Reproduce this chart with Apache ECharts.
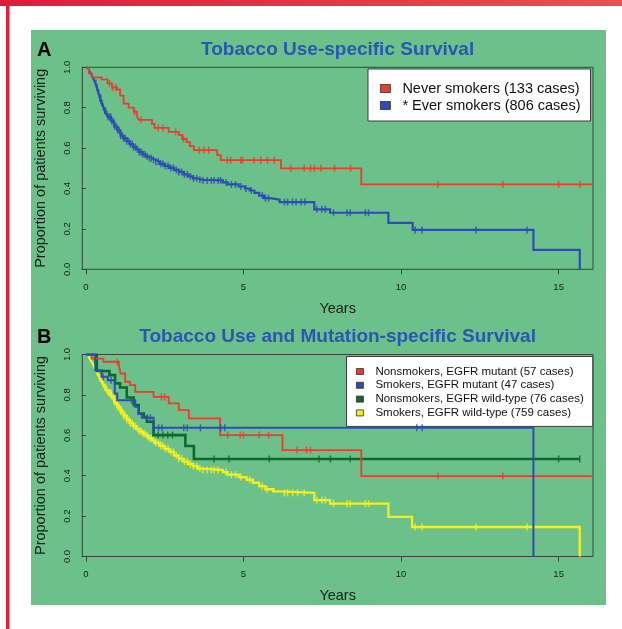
<!DOCTYPE html>
<html>
<head>
<meta charset="utf-8">
<script src="https://cdn.jsdelivr.net/npm/echarts@6/dist/echarts.min.js"></script>
<style>
  html, body { margin: 0; padding: 0; background: #ffffff; }
  #chart { width: 622px; height: 629px; }
</style>
</head>
<body>
<div id="chart"></div>
<script>
// ---- Kaplan-Meier step data: [years, proportion surviving after the drop] ----

// Panel A: tobacco use
const neverSmokersA = [
  [0, 1], [0.1, 0.97], [0.19, 0.95], [0.5, 0.94], [0.69, 0.92], [0.83, 0.90], [0.99, 0.89],
  [1.09, 0.86], [1.2, 0.82], [1.36, 0.80], [1.52, 0.78], [1.62, 0.76], [1.68, 0.74],
  [2.1, 0.72], [2.18, 0.70], [2.63, 0.68], [2.95, 0.665], [3.06, 0.645], [3.2, 0.63],
  [3.3, 0.61], [3.43, 0.59], [4.17, 0.565], [4.28, 0.54], [6.19, 0.50], [8.74, 0.42],
  [16.05, 0.42]
];
const everSmokersA = [
  [0, 1], [0.05, 0.995], [0.1, 0.985], [0.15, 0.972], [0.2, 0.958], [0.25, 0.94],
  [0.3, 0.922], [0.35, 0.9], [0.4, 0.875], [0.45, 0.848], [0.5, 0.822], [0.55, 0.805],
  [0.6, 0.785], [0.65, 0.77], [0.7, 0.755], [0.8, 0.733], [0.9, 0.708], [1.0, 0.688],
  [1.1, 0.662], [1.2, 0.648], [1.3, 0.634], [1.4, 0.62], [1.5, 0.605], [1.6, 0.594],
  [1.7, 0.58], [1.8, 0.569], [1.9, 0.558], [2.0, 0.55], [2.1, 0.542], [2.2, 0.533],
  [2.35, 0.522], [2.5, 0.512], [2.65, 0.502], [2.8, 0.492], [2.95, 0.482], [3.1, 0.47],
  [3.25, 0.46], [3.4, 0.45], [3.55, 0.443], [3.7, 0.44], [4.35, 0.43], [4.5, 0.42],
  [4.85, 0.41], [5.05, 0.4], [5.2, 0.39], [5.35, 0.378], [5.5, 0.365], [5.65, 0.352],
  [5.85, 0.345], [6.15, 0.333], [7.25, 0.297], [7.75, 0.28], [9.6, 0.23], [10.37, 0.195],
  [14.2, 0.096], [15.67, 0]
];
const neverCensorA = [
  0.75, 0.85, 0.95, 1.55, 1.75, 2.3, 2.45, 2.85, 3.1, 3.6, 3.75, 3.9, 4.49, 4.6, 4.92,
  4.97, 5.34, 5.55, 5.76, 5.98, 6.5, 6.93, 7.13, 7.25, 7.46, 7.89, 8.4, 11.17, 13.23,
  15.0, 15.67
];
const everCensorA = [
  0.32, 0.36, 0.41, 0.45, 0.48, 0.52, 0.56, 0.6, 0.63, 0.67, 0.71, 0.75, 0.79, 0.83,
  0.88, 0.92, 0.97, 1.02, 1.06, 1.11, 1.16, 1.2, 1.25, 1.3, 1.36, 1.41, 1.47, 1.52,
  1.58, 1.64, 1.7, 1.76, 1.82, 1.88, 1.95, 2.02, 2.08, 2.15, 2.22, 2.3, 2.38, 2.45,
  2.53, 2.61, 2.7, 2.78, 2.87, 2.95, 3.04, 3.13, 3.22, 3.32, 3.42, 3.52, 3.62, 3.72,
  3.85, 3.98, 4.07, 4.2, 4.28, 4.45, 4.62, 4.75, 4.92, 5.08, 5.25, 5.6, 5.7, 5.8,
  6.3, 6.4, 6.56, 6.67, 6.83, 6.95, 7.33, 7.49, 7.6, 7.86, 8.29, 8.39, 8.87, 8.97,
  10.45, 10.67, 12.38, 14.0
];

// Panel B: tobacco use and EGFR mutation status
const nonsmokersMutantB = [
  [0, 1], [0.19, 0.98], [0.56, 0.964], [1.05, 0.947], [1.1, 0.906], [1.25, 0.865],
  [1.4, 0.848], [1.57, 0.815], [2.15, 0.79], [2.63, 0.758], [2.95, 0.725], [3.27, 0.684],
  [4.26, 0.601], [6.24, 0.527], [8.74, 0.398], [16.05, 0.398]
];
const smokersMutantB = [
  [0, 1], [0.3, 0.922], [0.5, 0.89], [0.7, 0.873], [0.92, 0.807], [1.0, 0.774],
  [1.57, 0.741], [1.68, 0.706], [1.78, 0.687], [2.15, 0.637], [14.2, 0]
];
const nonsmokersWildB = [
  [0, 1], [0.35, 0.918], [0.75, 0.898], [0.93, 0.857], [1.09, 0.837], [1.3, 0.787],
  [1.52, 0.75], [1.68, 0.708], [1.84, 0.69], [1.94, 0.667], [2.15, 0.601], [3.16, 0.547],
  [3.43, 0.483], [15.67, 0.483]
];
const smokersWildB = [
  [0, 1], [0.05, 0.995], [0.1, 0.985], [0.15, 0.972], [0.2, 0.96], [0.25, 0.945],
  [0.3, 0.93], [0.35, 0.915], [0.4, 0.898], [0.45, 0.882], [0.5, 0.868], [0.55, 0.852],
  [0.6, 0.838], [0.65, 0.825], [0.7, 0.812], [0.8, 0.79], [0.9, 0.762], [1.0, 0.74],
  [1.1, 0.717], [1.2, 0.697], [1.3, 0.677], [1.4, 0.66], [1.5, 0.645], [1.6, 0.632],
  [1.7, 0.62], [1.8, 0.608], [1.9, 0.598], [2.0, 0.585], [2.1, 0.575], [2.2, 0.563],
  [2.35, 0.548], [2.5, 0.533], [2.65, 0.518], [2.8, 0.5], [2.95, 0.485], [3.1, 0.47],
  [3.25, 0.458], [3.4, 0.447], [3.55, 0.435], [3.7, 0.428], [4.35, 0.418], [4.5, 0.405],
  [4.85, 0.393], [5.1, 0.38], [5.3, 0.365], [5.5, 0.348], [5.7, 0.333], [5.95, 0.322],
  [6.15, 0.315], [7.25, 0.279], [7.75, 0.262], [9.6, 0.196], [10.35, 0.146], [15.67, 0]
];
const nonsmokersMutantCensorB = [
  0.3, 1.0, 2.4, 2.5, 4.5, 4.9, 5.0, 5.5, 5.8, 6.7, 7.0, 7.13, 11.17, 13.23
];
const smokersMutantCensorB = [
  0.55, 0.8, 1.45, 1.95, 2.05, 2.31, 2.42, 3.11, 3.22, 3.64, 4.28, 4.41, 10.5, 10.67
];
const nonsmokersWildCensorB = [
  2.3, 2.45, 2.6, 2.75, 4.07, 4.54, 5.82, 7.4, 7.76, 8.39, 15.0, 15.67
];
const smokersWildCensorB = [
  0.32, 0.36, 0.41, 0.45, 0.48, 0.52, 0.56, 0.6, 0.63, 0.67, 0.71, 0.75, 0.79, 0.83,
  0.88, 0.92, 0.97, 1.02, 1.06, 1.11, 1.16, 1.2, 1.25, 1.3, 1.36, 1.41, 1.47, 1.52,
  1.58, 1.64, 1.7, 1.76, 1.82, 1.88, 1.95, 2.02, 2.08, 2.15, 2.22, 2.3, 2.38, 2.45,
  2.53, 2.61, 2.7, 2.78, 2.87, 2.95, 3.04, 3.13, 3.22, 3.32, 3.42, 3.52, 3.62, 3.72,
  3.85, 3.98, 4.07, 4.2, 4.45, 4.62, 4.75, 4.92, 5.2, 5.6, 5.75, 6.3, 6.4, 6.56, 6.72,
  6.93, 7.33, 7.49, 7.6, 7.86, 8.29, 8.39, 8.87, 8.97, 10.45, 10.67, 12.38, 14.0
];

// Axis ticks and text
const xTickValues = [0, 5, 10, 15];
const yTickStep = 0.2;
const legendA = ['Never smokers (133 cases)', '* Ever smokers (806 cases)'];
const legendB = [
  'Nonsmokers, EGFR mutant (57 cases)',
  'Smokers, EGFR mutant (47 cases)',
  'Nonsmokers, EGFR wild-type (76 cases)',
  'Smokers, EGFR wild-type (759 cases)'
];

// ---- styling ----
const RED = '#f03a2c';
const BLUE = '#2d4cb5';
const DKGREEN = '#0b6a2c';
const YELLOW = '#f4f01c';
const PANEL = '#6cc089';
const FRAME = '#34473a';
const INK = '#15201a';
const FONT = '"Liberation Sans", Arial, Helvetica, sans-serif';

// value of a step curve at time t (for placing censor ticks on the curve)
function survivalAt(steps, t) {
  let s = steps[0][1];
  for (const [ti, si] of steps) {
    if (ti <= t) s = si; else break;
  }
  return s;
}

function curve(name, steps, color, width, idx, z) {
  return {
    type: 'line', name, data: steps, step: 'end',
    symbol: 'none', showSymbol: false,
    lineStyle: { color, width, join: 'miter', cap: 'butt' },
    itemStyle: { color },
    xAxisIndex: idx, yAxisIndex: idx, z, silent: true
  };
}

function censors(name, times, steps, color, idx, z) {
  return {
    type: 'scatter', name: name + ' (censored)',
    data: times.map(t => [t, survivalAt(steps, t)]),
    symbol: 'rect', symbolSize: [1.5, 7],
    itemStyle: { color },
    xAxisIndex: idx, yAxisIndex: idx, z, silent: true
  };
}

function xAxisFor(idx) {
  return {
    type: 'value', gridIndex: idx, min: -0.11, max: 16.09,
    axisLine: { show: false },
    splitLine: { show: false },
    axisTick: { show: true, customValues: xTickValues, length: 5, lineStyle: { color: FRAME, width: 1 } },
    axisLabel: { customValues: xTickValues, margin: 13, fontSize: 9.5, color: INK, fontFamily: FONT },
    name: 'Years', nameLocation: 'middle', nameGap: 32,
    nameTextStyle: { fontSize: 14.5, color: INK, fontFamily: FONT }
  };
}

function yAxisFor(idx) {
  return {
    type: 'value', gridIndex: idx, min: 0, max: 1, interval: yTickStep,
    axisLine: { show: false },
    splitLine: { show: false },
    axisTick: { show: true, length: 4, lineStyle: { color: FRAME, width: 1 } },
    axisLabel: {
      rotate: 90, margin: 10, fontSize: 9.5, color: INK, fontFamily: FONT,
      formatter: v => v.toFixed(1)
    },
    name: 'Proportion of patients surviving', nameLocation: 'middle', nameGap: 34,
    nameTextStyle: { fontSize: 14.5, color: INK, fontFamily: FONT }
  };
}

function legendBox(names, left, top, fontSize, lineH, gap, iconW, iconH, pad) {
  return {
    data: names, orient: 'vertical', left, top,
    backgroundColor: '#ffffff', borderColor: '#3c3c3c', borderWidth: 1, borderRadius: 0,
    padding: pad, itemGap: gap, itemWidth: iconW, itemHeight: iconH, icon: 'rect',
    itemStyle: { borderColor: '#303030', borderWidth: 0.8 },
    textStyle: { fontSize, lineHeight: lineH, color: '#111111', fontFamily: FONT, padding: [0, 0, 0, 7] },
    selectedMode: false
  };
}

const chart = echarts.init(document.getElementById('chart'), null, { renderer: 'canvas' });

chart.setOption({
  animation: false,
  backgroundColor: '#ffffff',
  graphic: [
    // page frame
    { type: 'rect', shape: { x: 0, y: 0, width: 622, height: 6 }, z: -10,
      style: { fill: new echarts.graphic.LinearGradient(0, 0, 1, 0, [
        { offset: 0, color: '#df1b3a' }, { offset: 1, color: '#e9504e' }]) } },
    { type: 'rect', shape: { x: 6, y: 0, width: 3.5, height: 629 }, z: -10, style: { fill: '#df1f3b' } },
    // green panel behind both plots
    { type: 'rect', shape: { x: 31, y: 30, width: 575, height: 575 }, z: -10, style: { fill: PANEL } },
    // panel letters and titles
    { type: 'text', x: 37, y: 50, z: 10,
      style: { text: 'A', font: 'bold 20px ' + FONT, fill: '#000000', textVerticalAlign: 'middle' } },
    { type: 'text', x: 337.6, y: 50, z: 10,
      style: { text: 'Tobacco Use-specific Survival', font: 'bold 19px ' + FONT, fill: '#2a56b4',
               textAlign: 'center', textVerticalAlign: 'middle' } },
    { type: 'text', x: 37, y: 337, z: 10,
      style: { text: 'B', font: 'bold 20px ' + FONT, fill: '#000000', textVerticalAlign: 'middle' } },
    { type: 'text', x: 337.6, y: 337, z: 10,
      style: { text: 'Tobacco Use and Mutation-specific Survival', font: 'bold 19px ' + FONT, fill: '#2a56b4',
               textAlign: 'center', textVerticalAlign: 'middle' } }
  ],
  grid: [
    { left: 82.3, top: 67.3, width: 510.7, height: 202, show: true,
      borderColor: FRAME, borderWidth: 1, backgroundColor: 'transparent' },
    { left: 82.3, top: 354.5, width: 510.7, height: 202, show: true,
      borderColor: FRAME, borderWidth: 1, backgroundColor: 'transparent' }
  ],
  xAxis: [xAxisFor(0), xAxisFor(1)],
  yAxis: [yAxisFor(0), yAxisFor(1)],
  legend: [
    legendBox(legendA, 368, 69, 14.5, 15, 2, 10, 8, [12, 10, 8, 12]),
    legendBox(legendB, 346.5, 356.5, 11.5, 12, 1.8, 7, 6, [9, 9, 7.5, 9.5])
  ],
  series: [
    // A
    curve(legendA[1], everSmokersA, BLUE, 2.2, 0, 2),
    censors(legendA[1], everCensorA, everSmokersA, BLUE, 0, 2),
    curve(legendA[0], neverSmokersA, RED, 1.8, 0, 3),
    censors(legendA[0], neverCensorA, neverSmokersA, RED, 0, 3),
    // B
    curve(legendB[3], smokersWildB, YELLOW, 2.3, 1, 2),
    censors(legendB[3], smokersWildCensorB, smokersWildB, YELLOW, 1, 2),
    curve(legendB[2], nonsmokersWildB, DKGREEN, 2.6, 1, 3),
    censors(legendB[2], nonsmokersWildCensorB, nonsmokersWildB, DKGREEN, 1, 3),
    curve(legendB[0], nonsmokersMutantB, RED, 1.8, 1, 4),
    censors(legendB[0], nonsmokersMutantCensorB, nonsmokersMutantB, RED, 1, 4),
    curve(legendB[1], smokersMutantB, BLUE, 2, 1, 5),
    censors(legendB[1], smokersMutantCensorB, smokersMutantB, BLUE, 1, 5)
  ]
});
</script>
</body>
</html>
